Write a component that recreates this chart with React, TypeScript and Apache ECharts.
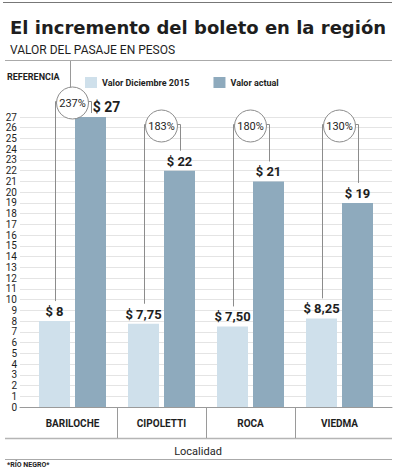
import React, { useEffect, useRef } from "react";
import * as echarts from "echarts";

const categories = ["BARILOCHE", "CIPOLETTI", "ROCA", "VIEDMA"];
const valorDic2015 = [8, 7.75, 7.5, 8.25];
const valorActual = [27, 22, 21, 19];
const incrementos = [237, 183, 180, 130];
const yTicks = { min: 0, max: 27, interval: 1 };

const FONT = "Roboto, 'Liberation Sans', sans-serif";
const TITLE_FONT = "'DejaVu Sans', 'Open Sans', sans-serif";
const LIGHT = "#cfe0eb";
const DARK = "#8eaabd";
const TEXT = "#1e1e1e";
const LINE = "#8c8c8c";
const BAR_W = 31;
const GAP = 5;

const fmt = (v: number) =>
  v % 1 === 0 ? `$ ${v}` : `$ ${v.toFixed(2).replace(".", ",")}`;

export default function App() {
  const ref = useRef<HTMLDivElement>(null);
  useEffect(() => {
    if (!ref.current) return;
    const chart = echarts.init(ref.current, null, { renderer: "svg" });
    const labelStyle = {
      show: true,
      position: "top",
      distance: 3,
      fontFamily: FONT,
      fontWeight: "bold",
      fontSize: 13,
      color: TEXT,
      formatter: (p: any) => fmt(p.value),
    };
    const option: any = {
      animation: false,
      backgroundColor: "#fff",
      title: {
        text: "El incremento del boleto en la región",
        subtext: "VALOR DEL PASAJE EN PESOS",
        left: 5,
        top: 13,
        itemGap: 8,
        textStyle: { fontFamily: TITLE_FONT, fontWeight: "bold", fontSize: 18, color: TEXT },
        subtextStyle: { fontFamily: FONT, fontSize: 12, color: TEXT },
      },
      legend: {
        data: ["Valor Diciembre 2015", "Valor actual"],
        left: 80,
        top: 72,
        itemWidth: 12,
        itemHeight: 11,
        itemGap: 24,
        icon: "rect",
        textStyle: { fontFamily: FONT, fontWeight: "bold", fontSize: 9, color: TEXT },
      },
      grid: [
        { left: 28, right: 11, top: 117, bottom: 64 },
        { left: 20, right: 3, top: 117, bottom: 64 },
      ],
      xAxis: [
        {
          type: "category",
          gridIndex: 0,
          data: categories,
          axisLine: { show: false },
          axisTick: { show: false },
          axisLabel: {
            margin: 11,
            fontFamily: FONT,
            fontWeight: "bold",
            fontSize: 10,
            color: TEXT,
          },
        },
        {
          type: "value",
          gridIndex: 1,
          min: 0,
          max: 1,
          axisLine: { show: true, lineStyle: { color: "#9a9a9a" } },
          axisTick: { show: false },
          axisLabel: { show: false },
          splitLine: { show: false },
        },
      ],
      yAxis: [
        {
          type: "value",
          gridIndex: 0,
          ...yTicks,
          axisLine: { show: false },
          axisTick: { show: false },
          splitLine: { show: false },
          axisLabel: {
            margin: 11,
            fontFamily: FONT,
            fontSize: 10,
            color: TEXT,
            padding: [0, 0, 5, 0],
          },
        },
        {
          type: "value",
          gridIndex: 1,
          ...yTicks,
          axisLine: { show: false },
          axisTick: { show: false },
          axisLabel: { show: false },
          splitLine: { show: true, lineStyle: { color: "#e4e4e4" } },
        },
      ],
      graphic: [
        { type: "line", shape: { x1: 3, y1: 2.5, x2: 392, y2: 2.5 }, style: { stroke: "#777", lineWidth: 1 } },
        { type: "line", shape: { x1: 5, y1: 60.5, x2: 392, y2: 60.5 }, style: { stroke: "#aaa", lineWidth: 1 } },
        { type: "line", shape: { x1: 70.5, y1: 61, x2: 70.5, y2: 89 }, style: { stroke: "#999", lineWidth: 1 } },
        {
          type: "text",
          left: 7,
          top: 72,
          style: { text: "REFERENCIA", fontFamily: FONT, fontWeight: "bold", fontSize: 9, fill: TEXT },
        },
        { type: "line", shape: { x1: 5, y1: 438.5, x2: 392, y2: 438.5 }, style: { stroke: "#b5b5b5", lineWidth: 1.5 } },
        {
          type: "text",
          x: 198,
          y: 451,
          style: {
            text: "Localidad",
            fontFamily: FONT,
            fontSize: 11,
            fill: TEXT,
            align: "center",
            verticalAlign: "middle",
          },
        },
        { type: "line", shape: { x1: 5, y1: 459.5, x2: 392, y2: 459.5 }, style: { stroke: "#aaa", lineWidth: 1 } },
        {
          type: "text",
          left: 7,
          top: 461,
          style: { text: "*RÍO NEGRO*", fontFamily: FONT, fontWeight: "bold", fontSize: 7, fill: TEXT },
        },
      ],
      series: [
        {
          name: "Valor Diciembre 2015",
          type: "bar",
          xAxisIndex: 0,
          yAxisIndex: 0,
          barWidth: BAR_W,
          barGap: `${(GAP / BAR_W) * 100}%`,
          itemStyle: { color: LIGHT },
          label: labelStyle,
          data: valorDic2015,
        },
        {
          name: "Valor actual",
          type: "bar",
          xAxisIndex: 0,
          yAxisIndex: 0,
          barWidth: BAR_W,
          barGap: `${(GAP / BAR_W) * 100}%`,
          itemStyle: { color: DARK },
          label: labelStyle,
          data: valorActual.map((v) =>
            v >= yTicks.max - 1
              ? { value: v, label: { offset: [16, 0], fontSize: 14 } }
              : v
          ),
        },
        {
          type: "custom",
          xAxisIndex: 0,
          yAxisIndex: 0,
          silent: true,
          clip: false,
          z: 5,
          data: categories.map((_, i) => [i, valorDic2015[i], valorActual[i], incrementos[i]]),
          renderItem: (params: any, api: any) => {
            const i = api.value(0);
            const base = api.coord([i, 0]);
            const bandW = api.size([1, 0])[0];
            const cx = base[0];
            const yLight = api.coord([i, api.value(1)])[1];
            const dVal = api.value(2);
            const yDark = api.coord([i, dVal])[1];
            const yTop = api.coord([i, yTicks.max])[1];
            const high = dVal >= yTicks.max - 1;
            const cy = high ? yTop - 14 : yTop + 9;
            const r = 16;
            const off = BAR_W / 2 + GAP / 2;
            const lx = Math.round(cx - off) + 0.5;
            const rx = Math.round(cx + off) + 0.5;
            const hy = Math.round(cy - 2) + 0.5;
            const children: any[] = [
              {
                type: "polyline",
                shape: { points: [[cx - r + 1, hy], [lx, hy], [lx, yLight - 20]] },
                style: { stroke: LINE, lineWidth: 1, fill: null },
              },
              {
                type: "polyline",
                shape: { points: [[cx + r - 1, hy], [rx, hy], [rx, high ? yDark - 4 : yDark - 20]] },
                style: { stroke: LINE, lineWidth: 1, fill: null },
              },
              {
                type: "circle",
                shape: { cx, cy, r },
                style: { fill: "#fff", stroke: LINE, lineWidth: 1 },
              },
              {
                type: "text",
                x: cx,
                y: cy,
                style: {
                  text: `${api.value(3)}%`,
                  fontFamily: FONT,
                  fontSize: 11,
                  fill: TEXT,
                  align: "center",
                  verticalAlign: "middle",
                },
              },
            ];
            if (i > 0) {
              const sx = Math.round(cx - bandW / 2) + 0.5;
              children.push({
                type: "line",
                shape: { x1: sx, y1: base[1], x2: sx, y2: base[1] + 31 },
                style: { stroke: "#9a9a9a", lineWidth: 1 },
              });
            }
            return { type: "group", children };
          },
        },
      ],
    };
    chart.setOption(option);
    return () => chart.dispose();
  }, []);
  return (
    <div
      ref={ref}
      style={{ position: "fixed", left: 0, top: 0, width: 395, height: 471, background: "#fff" }}
    />
  );
}
